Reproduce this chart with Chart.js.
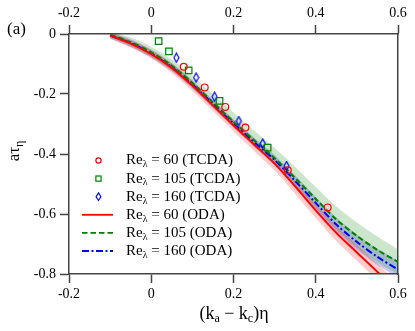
<!DOCTYPE html>
<html>
<head>
<meta charset="utf-8">
<script src="https://cdn.jsdelivr.net/npm/chart.js@4.4.1/dist/chart.umd.min.js"></script>
<style>
  html, body { margin: 0; padding: 0; background: #fff; }
  #wrap { width: 415px; height: 331px; }
</style>
</head>
<body>
<div id="wrap"><canvas id="tauChart" width="415" height="331"></canvas></div>
<script>
// TCDA measurements (markers)
const tcda60X  = [0.079, 0.130, 0.180, 0.229, 0.332, 0.429];
const tcda60Y  = [-0.109, -0.178, -0.243, -0.312, -0.454, -0.578];
const tcda105X = [0.018, 0.043, 0.091, 0.166, 0.283];
const tcda105Y = [-0.024, -0.058, -0.121, -0.223, -0.379];
const tcda160X = [0.061, 0.109, 0.154, 0.213, 0.271, 0.329];
const tcda160Y = [-0.079, -0.145, -0.209, -0.290, -0.365, -0.440];

// ODA curves and their shaded bands
const odaX    = [-0.1, -0.05, 0, 0.05, 0.1, 0.15, 0.2, 0.25, 0.3, 0.35, 0.4, 0.45, 0.5, 0.55, 0.6];
const oda60   = [-0.005, -0.032, -0.067, -0.113, -0.172, -0.238, -0.304, -0.368, -0.432, -0.508, -0.588, -0.663, -0.728, -0.793, -0.86];
const oda105  = [-0.002, -0.027, -0.061, -0.106, -0.163, -0.228, -0.293, -0.354, -0.414, -0.48, -0.55, -0.618, -0.673, -0.72, -0.76];
const oda160  = [-0.005, -0.03, -0.065, -0.11, -0.168, -0.233, -0.298, -0.36, -0.42, -0.49, -0.563, -0.635, -0.693, -0.743, -0.785];
const band60Hi  = [0.005, -0.02, -0.053, -0.098, -0.156, -0.222, -0.287, -0.35, -0.413, -0.488, -0.566, -0.64, -0.703, -0.766, -0.83];
const band60Lo  = [-0.015, -0.045, -0.082, -0.13, -0.19, -0.257, -0.324, -0.39, -0.455, -0.533, -0.613, -0.69, -0.756, -0.822, -0.89];
const band105Hi = [0.006, -0.012, -0.043, -0.085, -0.14, -0.2, -0.262, -0.322, -0.38, -0.443, -0.51, -0.575, -0.628, -0.675, -0.718];
const band105Lo = [-0.01, -0.04, -0.076, -0.122, -0.18, -0.246, -0.312, -0.375, -0.437, -0.505, -0.58, -0.652, -0.712, -0.762, -0.8];
const band160Hi = [0.005, -0.018, -0.052, -0.097, -0.155, -0.22, -0.284, -0.345, -0.404, -0.472, -0.543, -0.612, -0.668, -0.716, -0.756];
const band160Lo = [-0.016, -0.043, -0.078, -0.124, -0.182, -0.247, -0.312, -0.375, -0.437, -0.508, -0.583, -0.658, -0.718, -0.77, -0.812];

// axis ticks
const xTicks = [-0.2, 0, 0.2, 0.4, 0.6];
const yTicks = [0, -0.2, -0.4, -0.6, -0.8];

// legend
const legendRe = ['60', '105', '160', '60', '105', '160'];
const legendSrc = ['TCDA', 'TCDA', 'TCDA', 'ODA', 'ODA', 'ODA'];

const SERIF = '"Liberation Serif", "Times New Roman", serif';
const RED = '#ff0000', GREEN = '#008000', BLUE = '#0000ff';

const pts = (xs, ys) => xs.map((x, i) => ({ x: x, y: ys[i] }));

function diamondImage(color, w, h) {
    const c = document.createElement('canvas');
    c.width = w + 2; c.height = h + 2;
    const g = c.getContext('2d');
    g.strokeStyle = color;
    g.lineWidth = 1.2;
    g.beginPath();
    g.moveTo(c.width / 2, 1);
    g.lineTo(c.width - 1, c.height / 2);
    g.lineTo(c.width / 2, c.height - 1);
    g.lineTo(1, c.height / 2);
    g.closePath();
    g.stroke();
    return c;
}

// draw text pieces with subscripts, return width
function richText(ctx, parts, x, y, size, measureOnly) {
    let w = 0;
    parts.forEach(p => {
        const s = p.sub ? Math.round(size * 0.68) : size;
        ctx.font = s + 'px ' + SERIF;
        if (!measureOnly) ctx.fillText(p.t, x + w, y + (p.sub ? size * 0.28 : 0));
        w += ctx.measureText(p.t).width;
    });
    return w;
}

const band = (lo, hi, color) => ([
    { data: pts(odaX, lo), showLine: true, borderWidth: 0, pointRadius: 0, fill: false, order: 3, tension: 0.3 },
    { data: pts(odaX, hi), showLine: true, borderWidth: 0, pointRadius: 0, fill: '-1', backgroundColor: color, order: 3, tension: 0.3 }
]);

const decorPlugin = {
    id: 'decor',
    afterDraw(chart) {
        const ctx = chart.ctx;
        ctx.save();
        ctx.fillStyle = '#000';
        ctx.textBaseline = 'middle';
        ctx.textAlign = 'left';

        // panel label
        ctx.font = '17px ' + SERIF;
        ctx.fillText('(a)', 7, 30);

        // x title
        const xParts = [{ t: '(k' }, { t: 'a', sub: true }, { t: ' \u2212 k' }, { t: 'c', sub: true }, { t: ')\u03b7' }];
        const xw = richText(ctx, xParts, 0, 0, 18, true);
        richText(ctx, xParts, 234 - xw / 2, 314, 18);

        // y title (rotated)
        ctx.save();
        ctx.translate(15, 151);
        ctx.rotate(-Math.PI / 2);
        const yParts = [{ t: 'a\u03c4' }, { t: '\u03b7', sub: true }];
        const yw = richText(ctx, yParts, 0, 0, 17, true);
        richText(ctx, yParts, -yw / 2, 0, 17);
        ctx.restore();

        // legend
        const y0 = 160.5, dy = 18.1, mx = 98.5, tx = 126;
        const styles = [
            { c: RED, m: 'circle' }, { c: GREEN, m: 'square' }, { c: BLUE, m: 'diamond' },
            { c: RED, d: [] }, { c: GREEN, d: [5.5, 3] }, { c: BLUE, d: [7, 2.5, 2, 2.5] }
        ];
        styles.forEach((s, i) => {
            const y = y0 + i * dy;
            ctx.strokeStyle = s.c;
            ctx.lineWidth = 1.2;
            ctx.setLineDash([]);
            if (s.m === 'circle') {
                ctx.beginPath(); ctx.arc(mx, y, 2.6, 0, Math.PI * 2); ctx.stroke();
            } else if (s.m === 'square') {
                ctx.strokeRect(mx - 2.6, y - 2.6, 5.2, 5.2);
            } else if (s.m === 'diamond') {
                ctx.beginPath();
                ctx.moveTo(mx, y - 3.8); ctx.lineTo(mx + 2.4, y); ctx.lineTo(mx, y + 3.8); ctx.lineTo(mx - 2.4, y);
                ctx.closePath(); ctx.stroke();
            } else {
                ctx.lineWidth = 1.8;
                ctx.setLineDash(s.d);
                ctx.beginPath(); ctx.moveTo(82, y); ctx.lineTo(113, y); ctx.stroke();
            }
            ctx.setLineDash([]);
            richText(ctx, [{ t: 'Re' }, { t: '\u03bb', sub: true }, { t: ' = ' + legendRe[i] + ' (' + legendSrc[i] + ')' }], tx, y, 15);
        });
        ctx.restore();
    }
};

const axisCommon = {
    type: 'linear',
    border: { display: true, color: '#444', width: 1.5 },
    grid: { drawOnChartArea: false, tickLength: 9, color: '#444', tickWidth: 1.5 },
    ticks: { color: '#000', font: { family: SERIF, size: 14 }, padding: 3 }
};

new Chart(document.getElementById('tauChart'), {
    type: 'scatter',
    data: {
        datasets: [
            // markers
            { data: pts(tcda60X, tcda60Y), pointStyle: 'circle', pointRadius: 3.4, borderColor: RED, backgroundColor: 'rgba(0,0,0,0)', pointBorderWidth: 1.2, order: 0 },
            { data: pts(tcda105X, tcda105Y), pointStyle: 'rect', pointRadius: 4.6, borderColor: GREEN, backgroundColor: 'rgba(0,0,0,0)', pointBorderWidth: 1.2, order: 0 },
            { data: pts(tcda160X, tcda160Y), pointStyle: diamondImage(BLUE, 5, 9), pointRadius: 5, order: 0 },
            // lines
            { data: pts(odaX, oda60), showLine: true, borderColor: RED, borderWidth: 2, pointRadius: 0, tension: 0.3, order: 1 },
            { data: pts(odaX, oda105), showLine: true, borderColor: GREEN, borderWidth: 2, borderDash: [5.5, 3], pointRadius: 0, tension: 0.3, order: 1 },
            { data: pts(odaX, oda160), showLine: true, borderColor: BLUE, borderWidth: 2, borderDash: [7, 2.5, 2, 2.5], pointRadius: 0, tension: 0.3, order: 1 },
            // bands
            ...band(band60Lo, band60Hi, 'rgba(255,0,0,0.2)'),
            ...band(band105Lo, band105Hi, 'rgba(0,128,0,0.2)'),
            ...band(band160Lo, band160Hi, 'rgba(40,40,200,0.25)')
        ]
    },
    options: {
        responsive: false,
        animation: false,
        events: [],
        layout: { padding: 0 },
        plugins: { legend: { display: false }, tooltip: { enabled: false } },
        scales: {
            x: {
                ...axisCommon, position: 'bottom', min: -0.2, max: 0.6,
                afterBuildTicks: s => { s.ticks = xTicks.map(v => ({ value: v })); },
                afterFit: s => { s.height = 57; }
            },
            x2: {
                ...axisCommon, position: 'top', min: -0.2, max: 0.6,
                afterBuildTicks: s => { s.ticks = xTicks.map(v => ({ value: v })); },
                afterFit: s => { s.height = 34; }
            },
            y: {
                ...axisCommon, position: 'left', min: -0.8, max: 0,
                ticks: { ...axisCommon.ticks, padding: 4 },
                afterBuildTicks: s => { s.ticks = yTicks.map(v => ({ value: v })); },
                afterFit: s => { s.width = 69; }
            },
            y2: {
                type: 'linear', position: 'right', min: -0.8, max: 0,
                border: { display: true, color: '#444', width: 1.5 },
                grid: { drawOnChartArea: false, drawTicks: false },
                ticks: { display: false },
                afterFit: s => { s.width = 17; }
            }
        }
    },
    plugins: [decorPlugin]
});
</script>
</body>
</html>
